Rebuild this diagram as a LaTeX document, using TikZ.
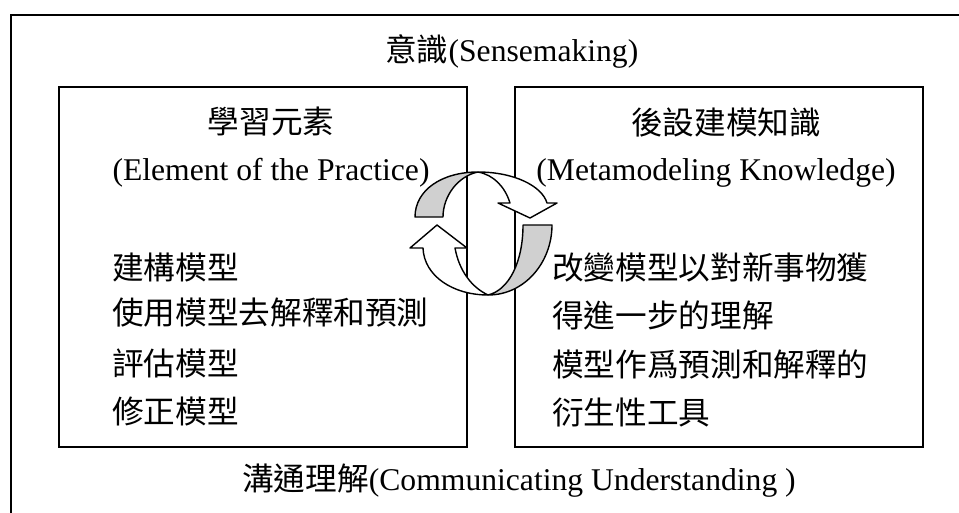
\documentclass[tikz,border=0pt]{standalone}
\usepackage{fontspec}
\setmainfont{Liberation Serif}
\newfontfamily\cjk{Noto Sans CJK TC}
\usepackage{tikz}
\definecolor{ribbon}{RGB}{208,208,208}
\tikzset{
    panel/.style={draw, line width=1.1pt, minimum width=8.16cm, minimum height=7.2cm, inner sep=0pt},
    txt/.style={inner sep=0pt, font=\fontsize{18}{22}\selectfont},
    item/.style={txt, anchor=west},
    band/.style={draw, line width=0.8pt, line join=round}
}

\begin{document}
\begin{tikzpicture}[x=0.02cm, y=-0.02cm]
    \useasboundingbox (0,0) rectangle (959,513);
    % Draw outer frame
    \draw[line width=1.1pt] (959,15) -- (11,15) -- (11,513);
    \node[item] (sense) at (385,51) {{\cjk 意識}(Sensemaking)};
    \node[item] (comm) at (242,481) {{\cjk 溝通理解}(Communicating Understanding )};
    % Draw the two boxes
    \node[panel] (elembox) at (263,267) {};
    \node[panel] (metabox) at (719,267) {};
    \node[txt] (elemhead) at (271,122) {\cjk 學習元素};
    \node[txt] (elemsub) at (271,173) {(Element of the Practice)};
    \node[txt] (metahead) at (726,122) {\cjk 後設建模知識};
    \node[txt] (metasub) at (716,173) {(Metamodeling Knowledge)};
    \node[item] (build) at (112,267) {\cjk 建構模型};
    \node[item] (use) at (112,313) {\cjk 使用模型去解釋和預測};
    \node[item] (assess) at (112,363) {\cjk 評估模型};
    \node[item] (revise) at (112,411) {\cjk 修正模型};
    \node[item] (change) at (552,267) {\cjk 改變模型以對新事物獲};
    \node[item] (further) at (552,315) {\cjk 得進一步的理解};
    \node[item] (tool) at (552,364) {\cjk 模型作爲預測和解釋的};
    \node[item] (derive) at (552,412) {\cjk 衍生性工具};
    % Draw circular arrows
    \filldraw[band, fill=ribbon] (415,217) .. controls (415,190) and (442,172) .. (478,172)
        .. controls (458,176) and (443,196) .. (443,217) -- cycle;
    \filldraw[band, fill=white] (478,172) .. controls (514,172) and (542,186) .. (547,203)
        -- (557,203) -- (530,218) -- (498,203) -- (510,203)
        .. controls (505,187) and (494,175) .. (478,172) -- cycle;
    \filldraw[band, fill=ribbon] (552,225) .. controls (552,262) and (525,295) .. (488,295)
        .. controls (509,290) and (523,262) .. (523,225) -- cycle;
    \filldraw[band, fill=white] (488,295) .. controls (453,295) and (424,276) .. (423,248)
        -- (410,248) -- (437,225) -- (467,248) -- (455,248)
        .. controls (459,270) and (471,287) .. (488,295) -- cycle;
\end{tikzpicture}
\end{document}
